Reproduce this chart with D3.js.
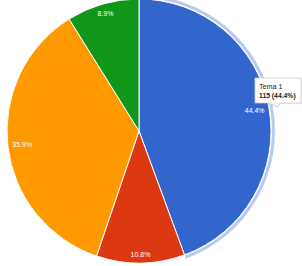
<!DOCTYPE html>
<html>
<head>
<meta charset="utf-8">
<script src="https://cdn.jsdelivr.net/npm/d3@7"></script>
<style>
  body { margin: 0; background: #fff; }
  svg { display: block; font-family: Arial, "Liberation Sans", sans-serif; }
</style>
</head>
<body>
<div id="chart"></div>
<script>
// slices, clockwise from 12 o'clock
let categories = ["Tema 1", "Tema 2", "Tema 3", "Tema 4"];
let values = [115, 28, 93, 23];
let colors = ["#3366cc", "#dc3912", "#ff9900", "#109618"];
let hovered = 0; // slice with the tooltip

let chart_width = 302;
let chart_height = 266;
let cx = 139, cy = 131;
let radius = 132;

let svg = d3.select("#chart")
  .append("svg")
  .attr("width", chart_width)
  .attr("height", chart_height);

let g = svg.append("g").attr("transform", "translate(" + cx + "," + cy + ")");

let total = d3.sum(values);
let pct = d3.format(".1%");

let pie = d3.pie().sort(null).value(function (d) { return d; });
let arcs = pie(values);

let arc = d3.arc().innerRadius(0).outerRadius(radius);

// hover ring around the active slice
let ring = d3.arc().innerRadius(radius + 1).outerRadius(radius + 4);
g.append("path")
  .attr("d", ring(arcs[hovered]))
  .attr("fill", colors[hovered])
  .attr("fill-opacity", 0.35);

g.selectAll("path.slice")
  .data(arcs)
  .enter()
  .append("path")
  .attr("class", "slice")
  .attr("d", arc)
  .attr("fill", function (d, i) { return colors[i]; })
  .attr("stroke", "#fff")
  .attr("stroke-width", 1);

// labels: pushed out as far as the text box still fits inside the pie
let inner_limit = radius - 4;
let labels = g.selectAll("text.lbl")
  .data(arcs)
  .enter()
  .append("text")
  .attr("class", "lbl")
  .attr("text-anchor", "middle")
  .attr("dy", "0.35em")
  .attr("font-size", 7)
  .attr("fill", "#fff")
  .text(function (d) { return pct(d.value / total); });

labels.each(function (d) {
  let w = this.getComputedTextLength() / 2;
  let h = 3.5;
  let a = (d.startAngle + d.endAngle) / 2;
  let ux = Math.sin(a), uy = -Math.cos(a);
  let dist = 0;
  for (let r = 0; r < radius; r += 0.5) {
    let x = r * ux, y = r * uy;
    let fx = Math.abs(x) + w, fy = Math.abs(y) + h;
    if (Math.sqrt(fx * fx + fy * fy) > inner_limit) break;
    dist = r;
  }
  d3.select(this).attr("x", dist * ux).attr("y", dist * uy);
});

// tooltip
let tip = svg.append("g").attr("transform", "translate(255,78)");
tip.append("rect")
  .attr("x", 1).attr("y", 1)
  .attr("width", 46).attr("height", 25)
  .attr("fill", "#000").attr("fill-opacity", 0.08);
tip.append("path")
  .attr("d", "M14,25 L22,29 L26,25 Z")
  .attr("fill", "#fff")
  .attr("stroke", "#bbb")
  .attr("stroke-width", 0.8);
tip.append("rect")
  .attr("width", 46).attr("height", 25)
  .attr("fill", "#fff")
  .attr("stroke", "#ccc")
  .attr("stroke-width", 0.8);
tip.append("path")
  .attr("d", "M14.5,25 L25.5,25")
  .attr("stroke", "#fff")
  .attr("stroke-width", 1.2);
tip.append("text")
  .attr("x", 4).attr("y", 11)
  .attr("font-size", 7.2)
  .attr("fill", "#222")
  .text(categories[hovered]);
tip.append("text")
  .attr("x", 4).attr("y", 20)
  .attr("font-size", 6.8)
  .attr("font-weight", "bold")
  .attr("fill", "#222")
  .text(values[hovered] + " (" + pct(values[hovered] / total) + ")");
</script>
</body>
</html>
